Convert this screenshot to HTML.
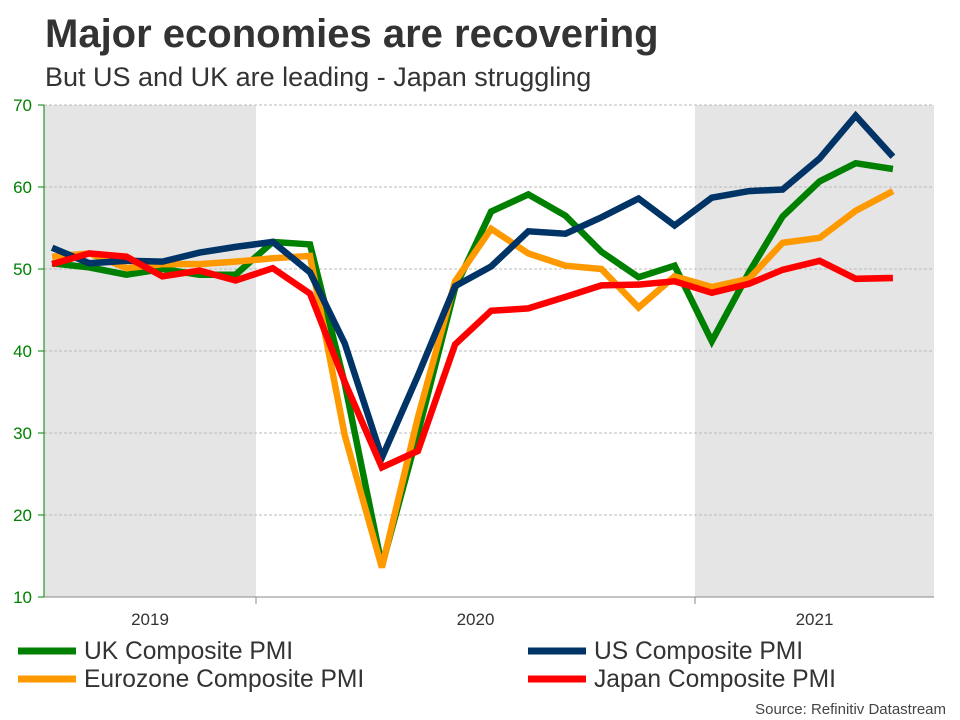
<!DOCTYPE html>
<html><head><meta charset="utf-8"><style>
body{margin:0;background:#fff;font-family:"Liberation Sans",Arial,sans-serif;}
svg{display:block}
</style></head><body>
<svg id="chart" width="960" height="720">
<text x="45" y="47" font-size="40" font-weight="bold" fill="#333">Major economies are recovering</text>
<text x="45" y="86" font-size="27" fill="#333">But US and UK are leading - Japan struggling</text>
<g id="plot"></g>
<g>
<g><line x1="18" y1="651" x2="76" y2="651" stroke="#008000" stroke-width="7"/><text x="84" y="659" font-size="24.6" fill="#333">UK Composite PMI</text></g>
<g><line x1="528" y1="651" x2="586" y2="651" stroke="#003366" stroke-width="7"/><text x="594" y="659" font-size="24.6" fill="#333">US Composite PMI</text></g>
<g><line x1="18" y1="679" x2="76" y2="679" stroke="#ff9900" stroke-width="7"/><text x="84" y="687" font-size="24.6" fill="#333">Eurozone Composite PMI</text></g>
<g><line x1="528" y1="679" x2="586" y2="679" stroke="#ff0000" stroke-width="7"/><text x="594" y="687" font-size="24.6" fill="#333">Japan Composite PMI</text></g>
</g>
<text x="946" y="714" font-size="15" fill="#444" text-anchor="end">Source: Refinitiv Datastream</text>
</svg>
<script>
const months = ["2019-07","2019-08","2019-09","2019-10","2019-11","2019-12","2020-01","2020-02","2020-03","2020-04","2020-05","2020-06","2020-07","2020-08","2020-09","2020-10","2020-11","2020-12","2021-01","2021-02","2021-03","2021-04","2021-05","2021-06"];
const ukValues = [50.7,50.2,49.3,50.0,49.3,49.3,53.3,53.0,36.0,13.8,30.0,47.7,57.0,59.1,56.5,52.1,49.0,50.4,41.2,49.6,56.4,60.7,62.9,62.2];
const usValues = [52.6,50.7,51.0,50.9,52.0,52.7,53.3,49.6,40.9,27.0,37.0,47.9,50.3,54.6,54.3,56.3,58.6,55.3,58.7,59.5,59.7,63.5,68.7,63.7];
const ezValues = [51.5,51.9,50.1,50.6,50.6,50.9,51.3,51.6,29.7,13.6,31.9,48.5,54.9,51.9,50.4,50.0,45.3,49.1,47.8,48.8,53.2,53.8,57.1,59.5];
const jpValues = [50.6,51.9,51.5,49.1,49.8,48.6,50.1,47.0,36.2,25.8,27.8,40.8,44.9,45.2,46.6,48.0,48.1,48.5,47.1,48.2,49.9,51.0,48.8,48.9];
const yTicks = [10,20,30,40,50,60,70];
const yearLabels = ["2019","2020","2021"];

const NS="http://www.w3.org/2000/svg";
const plot=document.getElementById('plot');
const L=44,R=934,T=105,B=597,yMin=10,yMax=70;
const D=86400000;
const t2020=Date.UTC(2020,0,1), t2021=Date.UTC(2021,0,1);
const pxPerDay=(695-256)/((t2021-t2020)/D);
function xDate(t){return 256+(t-t2020)/D*pxPerDay;}
function xMonth(m){const p=m.split('-');return xDate(Date.UTC(+p[0],+p[1]-1,15));}
function y(v){return B-(v-yMin)/(yMax-yMin)*(B-T);}
function mk(tag,attrs){const e=document.createElementNS(NS,tag);for(const k in attrs)e.setAttribute(k,attrs[k]);plot.appendChild(e);return e;}

let r=mk('rect',{x:L,y:T,width:256-L,height:B-T,fill:'#e5e5e5'});


r=mk('rect',{x:695,y:T,width:R-695,height:B-T,fill:'#e5e5e5'});



yTicks.forEach(v=>{
  if(v>yMin){const g=mk('line',{x1:L,x2:R,y1:y(v),y2:y(v),stroke:'#bbb','stroke-dasharray':'3,2','stroke-width':1});
  
  }
  const tk=mk('line',{x1:L-6,x2:L,y1:y(v),y2:y(v),stroke:'#008000','stroke-width':1});
  
  
  const t=mk('text',{x:L-12,y:y(v)+6,'font-size':17,fill:'#008000','text-anchor':'end'});
  t.textContent=v;
  
  
});
let ax=mk('line',{x1:L,x2:L,y1:T,y2:B,stroke:'#008000','stroke-width':1});


ax=mk('line',{x1:L,x2:R,y1:B,y2:B,stroke:'#888','stroke-width':1});


[t2020,t2021].forEach(t=>{const l=mk('line',{x1:xDate(t),x2:xDate(t),y1:B,y2:B+7,stroke:'#888'});
  
  });
const bounds=[L,256,695,R];
yearLabels.forEach((s,i)=>{const t=mk('text',{x:(bounds[i]+bounds[i+1])/2,y:625,'font-size':17,fill:'#333','text-anchor':'middle'});
  t.textContent=s;
  
  });

function series(vals,color,name){
  const d=vals.map((v,i)=>(i?'L':'M')+xMonth(months[i]).toFixed(1)+','+y(v).toFixed(1)).join('');
  const p=mk('path',{d:d,fill:'none',stroke:color,'stroke-width':6.5,'stroke-linejoin':'miter','stroke-miterlimit':3});
  
  
}
series(ukValues,'#008000','uk-line');
series(ezValues,'#ff9900','eurozone-line');
series(usValues,'#003366','us-line');
series(jpValues,'#ff0000','japan-line');
</script>
</body></html>
